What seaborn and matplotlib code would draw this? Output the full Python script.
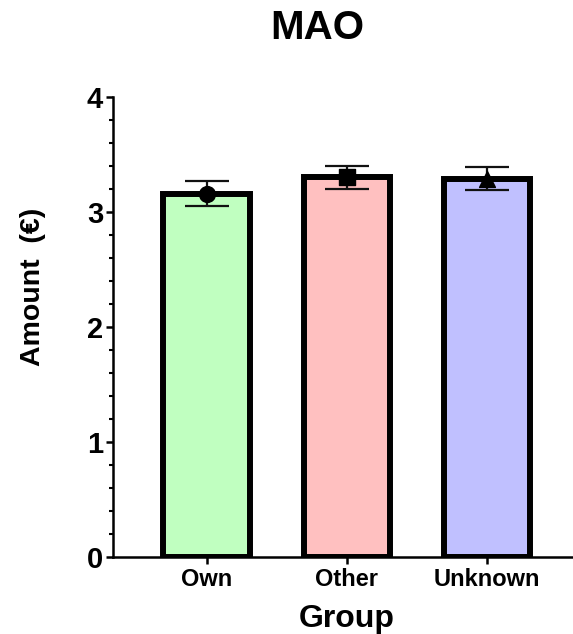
import matplotlib
matplotlib.use("Agg")
import matplotlib.pyplot as plt
from matplotlib.ticker import MultipleLocator
import seaborn as sns
import numpy as np

# values
groups = ["Own", "Other", "Unknown"]
means = [3.16, 3.30, 3.29]
errors = [0.105, 0.10, 0.10]
bar_colors = ["#C0FFC0", "#FFC0C0", "#C0C0FF"]
markers = ["o", "s", "^"]

sns.set_style("ticks")
plt.rcParams["font.family"] = ["Liberation Sans", "DejaVu Sans"]
plt.rcParams["font.weight"] = "bold"
plt.rcParams["text.color"] = "black"
plt.rcParams["xtick.color"] = "black"
plt.rcParams["ytick.color"] = "black"
plt.rcParams["axes.edgecolor"] = "black"

fig = plt.figure(figsize=(5.73, 6.34), dpi=100)
ax = fig.add_axes([0.197, 0.1215, 0.803, 0.7256])

sns.barplot(x=groups, y=means, hue=groups, palette=bar_colors, legend=False,
            saturation=1, width=0.62, edgecolor="black", linewidth=4.3,
            errorbar=None, ax=ax)

x = np.arange(len(groups))
ax.errorbar(x, means, yerr=errors, fmt="none", ecolor="#111111",
            elinewidth=1.6, capsize=16, capthick=1.6, zorder=5)
for xi, m, mk in zip(x, means, markers):
    ax.scatter(xi, m, marker=mk, s=130, color="black", zorder=6)

ax.set_xlim(-0.671, 2.614)
ax.set_ylim(0, 4)
ax.yaxis.set_major_locator(MultipleLocator(1))
ax.yaxis.set_minor_locator(MultipleLocator(0.2))
sns.despine(ax=ax)
ax.spines["left"].set_linewidth(1.8)
ax.spines["bottom"].set_linewidth(1.8)
ax.tick_params(axis="y", which="major", length=5, width=1.8, labelsize=21, pad=2)
ax.tick_params(axis="y", which="minor", length=3, width=1.5)
ax.tick_params(axis="x", length=5, width=1.8, labelsize=17, pad=3)
for lab in ax.get_xticklabels() + ax.get_yticklabels():
    lab.set_fontweight("bold")
ax.set_xlabel("")
ax.set_ylabel("")

fig.text(317 / 573, 1 - 28 / 634, "MAO", ha="center", va="center",
         fontsize=29, fontweight="bold")
fig.text(33 / 573, 1 - 287 / 634, "Amount  (€)", ha="center", va="center",
         rotation=90, fontsize=20.5, fontweight="bold")
fig.text(347 / 573, 1 - 619 / 634, "Group", ha="center", va="center",
         fontsize=23, fontweight="bold")

fig.savefig("out.png", dpi=100)
